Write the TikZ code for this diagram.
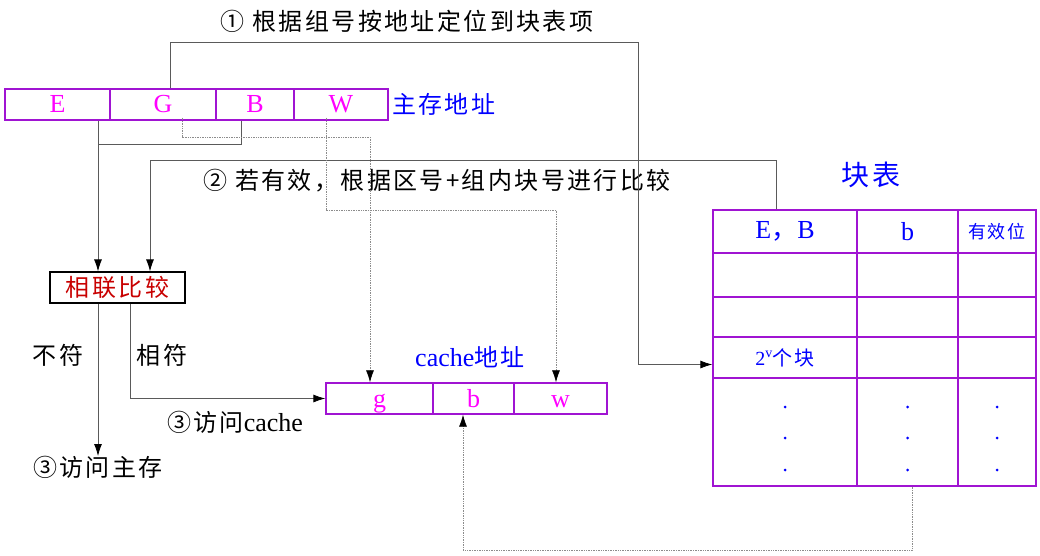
\documentclass[tikz,border=0pt]{standalone}
\usepackage{fontspec}
\setmainfont{Liberation Serif}
\newfontfamily\cjk[LetterSpace=10]{Noto Sans CJK SC}
\usepackage{tikz}
\usetikzlibrary{arrows.meta,positioning,calc}
\definecolor{boxpurple}{RGB}{160,20,210}
\definecolor{fieldpink}{RGB}{255,0,255}
\definecolor{linegray}{RGB}{90,90,90}
\definecolor{dotgray}{RGB}{140,140,140}

\tikzset{
  field/.style={draw=boxpurple, line width=1.3pt, minimum height=31pt, inner sep=0pt,
                text height=22pt, text depth=5pt,
                text=fieldpink, font=\fontsize{26}{28}\selectfont},
  cell/.style={draw=boxpurple, line width=1.3pt, inner sep=0pt, text=blue},
  conn/.style={draw=linegray, line width=0.8pt},
  dotline/.style={draw=dotgray, line width=0.7pt, densely dotted},
  tip/.style={-{Latex[length=12pt,width=8pt,black]}},
  lbl/.style={inner sep=0pt, font=\fontsize{24}{28}\selectfont}
}

\begin{document}
\begin{tikzpicture}[x=1pt,y=-1pt]
        \useasboundingbox (0,0) rectangle (1040,556);

        % main memory address
        \node[field, minimum width=105pt] (E) at (57.5,104.5) {E};
        \node[field, minimum width=106pt] (G) at (163,104.5) {G};
        \node[field, minimum width=78pt]  (B) at (255,104.5) {B};
        \node[field, minimum width=94pt]  (W) at (341,104.5) {W};
        \node[lbl, text=blue, anchor=west] (mlbl) at (392,104) {\cjk 主存地址};

        % cache address
        \node[field, minimum width=107pt] (g) at (379.5,398.5) {g};
        \node[field, minimum width=81pt]  (b) at (473.5,398.5) {b};
        \node[field, minimum width=93pt]  (w) at (560.5,398.5) {w};
        \node[lbl, text=blue] (clbl) at (470,357) {{\fontsize{26}{28}\selectfont cache}{\cjk 地址}};

        % comparator
        \node[draw, line width=1.2pt, minimum width=135pt, minimum height=31pt, inner sep=0pt,
              text={rgb,255:red,200;green,0;blue,0}, font=\fontsize{24}{28}\selectfont\cjk]
              (cmp) at (117.5,287.5) {相联比较};

        % block table
        \node[lbl, text=blue, font=\fontsize{28}{30}\selectfont\cjk] (ttl) at (871,175) {块表};
        \foreach \r/\yc/\rh in {1/231.5/43, 2/275/44, 3/317/40, 4/357.5/41, 5/432/108}
          \foreach \c/\xc/\cw in {1/785/144, 2/907.5/101, 3/997/78}
            \node[cell, minimum width=\cw pt, minimum height=\rh pt] (t\r\c) at (\xc,\yc) {};
        \node[text=blue, font=\fontsize{26}{28}\selectfont] at (t11) {E{\cjk ，}B};
        \node[text=blue, font=\fontsize{26}{28}\selectfont] at (t12) {b};
        \node[text=blue, font=\fontsize{18}{20}\selectfont\cjk] at (t13) {有效位};
        \node[text=blue, font=\fontsize{20}{22}\selectfont] at (t41) {2$^{\mathrm{v}}${\cjk 个块}};
        \foreach \c in {1,2,3}
          \foreach \dy in {-25,6,38}
            \fill[blue] ([yshift=-\dy pt]t5\c.center) circle (1.5pt);

        % step texts
        \node[lbl, font=\fontsize{24}{28}\selectfont\cjk] (s1) at (407,21) {①\ 根据组号按地址定位到块表项};
        \node[lbl, font=\fontsize{24}{28}\selectfont\cjk] (s2) at (437,181) {②\ 若有效，根据区号+组内块号进行比较};
        \node[lbl, font=\fontsize{24}{28}\selectfont\cjk] (nf) at (58,355) {不符};
        \node[lbl, font=\fontsize{24}{28}\selectfont\cjk] (xf) at (162,355) {相符};
        \node[lbl, font=\fontsize{26}{28}\selectfont] (acc) at (235,422) {{\fontsize{24}{28}\selectfont\cjk ③访问}cache};
        \node[lbl, font=\fontsize{24}{28}\selectfont\cjk, anchor=north] (mem) at (98,456) {③访问主存};

        % turning points
        \coordinate (k1) at (638,42);
        \coordinate (k2) at (150,160);
        \coordinate (jn) at (98,144);
        \coordinate (d1) at (370,137);
        \coordinate (d2) at (556,210);
        \coordinate (d3) at (463,550);

        % step 1 and 2
        \draw[conn,tip] ([xshift=7pt]G.north) |- (k1) |- ([yshift=-7pt]t41.west);
        \draw[conn,tip] ([xshift=-9pt]t11.north) |- (k2) -- (k2 |- cmp.north);
        \draw[conn,tip] ([xshift=40.5pt]E.south) -- ([xshift=40.5pt]E.south |- cmp.north);
        \draw[conn] ([xshift=-14pt]B.south) |- (jn);

        % to cache address
        \draw[dotline,tip] ([xshift=19pt,yshift=3pt]G.south) |- (d1) -- (d1 |- g.north);
        \draw[dotline,tip] ([xshift=-15pt,yshift=3pt]W.south) |- (d2) -- (d2 |- w.north);
        \draw[dotline,tip] ([xshift=5pt]t52.south) |- (d3) -- (d3 |- b.south);

        % step 3
        \draw[conn,tip] ([xshift=-19.5pt]cmp.south) -- ([xshift=-19.5pt]cmp.south |- mem.north);
        \draw[conn,tip] ([xshift=12.5pt]cmp.south) |- (g.west);

      \end{tikzpicture}
\end{document}
